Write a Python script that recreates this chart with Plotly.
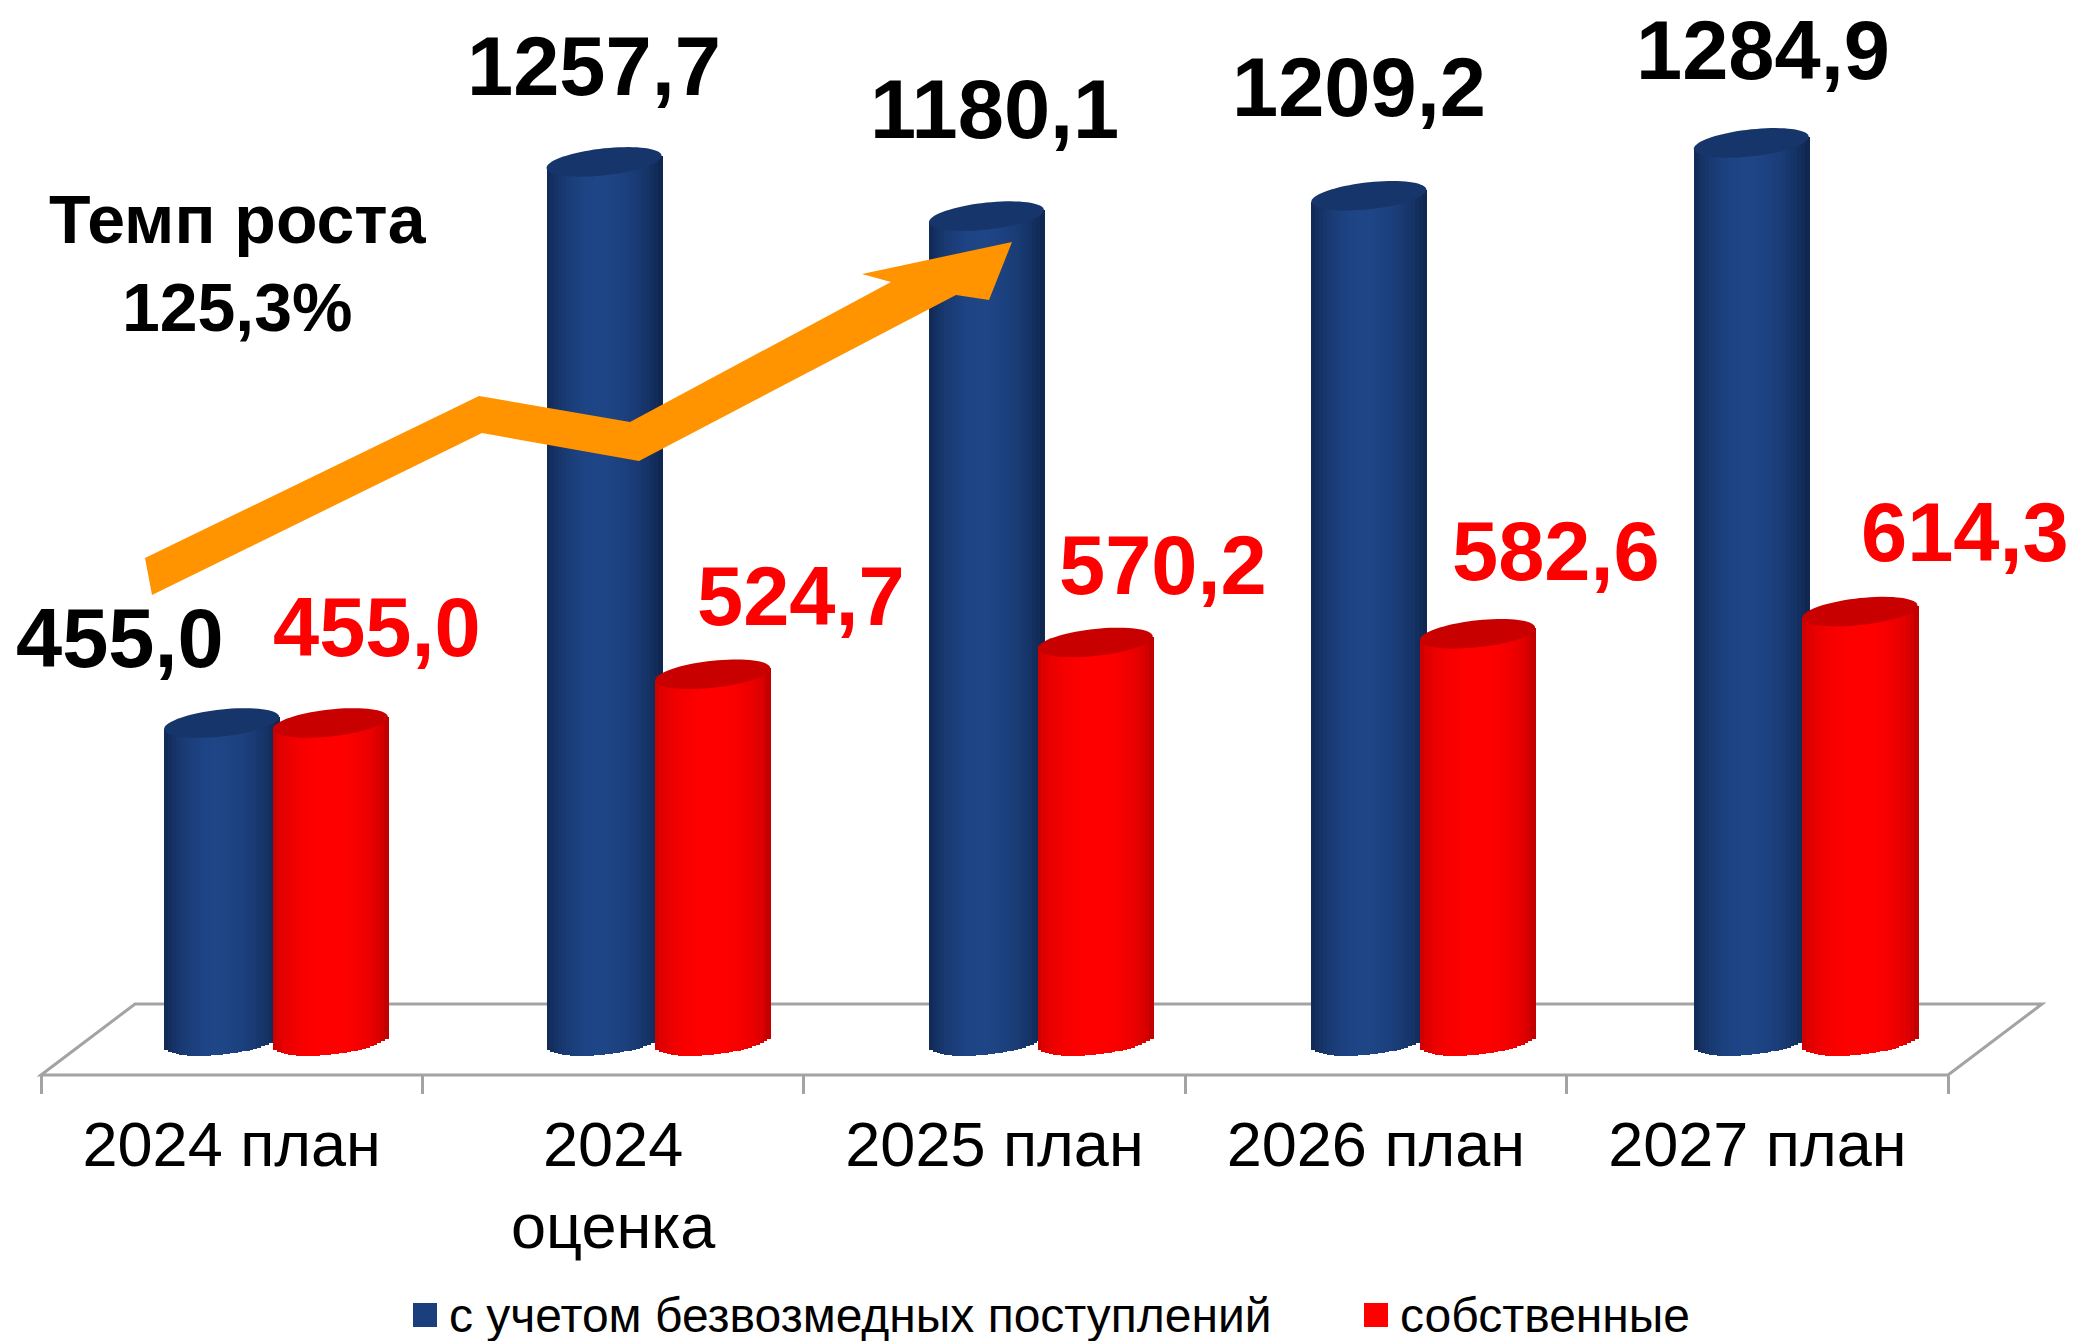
import numpy as np
import plotly.graph_objects as go

# ---------------- data ----------------
categories = ["2024 план", "2024<br>оценка", "2025 план", "2026 план", "2027 план"]
total_values = [455.0, 1257.7, 1180.1, 1209.2, 1284.9]
own_values = [455.0, 524.7, 570.2, 582.6, 614.3]
total_labels = ["455,0", "1257,7", "1180,1", "1209,2", "1284,9"]
own_labels = ["455,0", "524,7", "570,2", "582,6", "614,3"]
series_names = ["с учетом безвозмедных поступлений", "собственные"]
growth_text = "Темп роста<br>125,3%"

# ---------------- geometry / style ----------------
W, H = 2094, 1341
BASE_PX = 1041.0          # pixel row of value 0
PXU_Y = 0.699             # px per value unit
PX_CAT = 382.4            # px per category
PAIR0_PX = 276.0          # px of first pair centre
FRONT_L, FRONT_R = 41.0, 1948.0
FRONT_Y, BACK_Y = 1075.0, 1004.0
BACK_SHIFT = 94.0
FONT = "Liberation Sans, Arial, sans-serif"

x_lo = (FRONT_L - PAIR0_PX) / PX_CAT
x_hi = (FRONT_R - PAIR0_PX) / PX_CAT
y_lo = -(H - BASE_PX) / PXU_Y
y_hi = BASE_PX / PXU_Y

bar_w = 115.0 / PX_CAT
rx = bar_w / 2
ry = 13.5 / PXU_Y
shear = 6.0 / PXU_Y
centre_off = [-108.7 / 2 / PX_CAT, 108.7 / 2 / PX_CAT]

N = 30
xs = list(range(len(categories)))


def hex2rgb(h):
    h = h.lstrip('#')
    return np.array([int(h[i:i + 2], 16) for i in (0, 2, 4)], float)


def lerp(c1, c2, f):
    c = hex2rgb(c1) * (1 - f) + hex2rgb(c2) * f
    return "rgb(%d,%d,%d)" % tuple(np.round(c))


shade = [
    dict(dark_l="#0f2650", dark_r="#0d234a", light="#1e4586", u0=-0.1, p=0.7, top="#16356a"),
    dict(dark_l="#b80000", dark_r="#a00000", light="#ff0000", u0=0.05, p=0.35, top="#c80000"),
]

fig = go.Figure()

for s_idx, vals in enumerate([total_values, own_values]):
    sh = shade[s_idx]
    for j in range(N):
        uc = -1 + (2 * j + 1) / N
        if uc < sh["u0"]:
            d = (uc - sh["u0"]) / (1 + sh["u0"])
            dark = sh["dark_l"]
        else:
            d = (uc - sh["u0"]) / (1 - sh["u0"])
            dark = sh["dark_r"]
        f = max(0.0, np.cos(d * np.pi / 2)) ** sh["p"]
        col = lerp(dark, sh["light"], f)
        base = -ry * np.sqrt(max(0.0, 1 - uc ** 2)) + shear * uc
        heights = [v + shear * uc - base for v in vals]
        fig.add_trace(go.Bar(
            x=xs, y=heights, base=base,
            width=2 * rx / N + 0.0028,
            offset=centre_off[s_idx] - rx + j * 2 * rx / N,
            marker=dict(color=col, line=dict(width=0)),
            showlegend=False, hoverinfo="skip",
        ))

# top ellipses
shapes = []
t = np.linspace(0, 2 * np.pi, 73)
for i in xs:
    for s_idx, vals in enumerate([total_values, own_values]):
        cx = i + centre_off[s_idx]
        px = cx + rx * np.cos(t)
        py = vals[i] + ry * np.sin(t) + shear * np.cos(t)
        path = "M " + " L ".join("%.5f,%.4f" % (a, b) for a, b in zip(px, py)) + " Z"
        shapes.append(dict(type="path", path=path, xref="x", yref="y",
                           fillcolor=shade[s_idx]["top"], line=dict(width=0), layer="above"))


def P(xp, yp):
    return xp / W, 1 - yp / H


# floor
fl = [(FRONT_L, FRONT_Y), (FRONT_L + BACK_SHIFT, BACK_Y), (FRONT_R + BACK_SHIFT, BACK_Y), (FRONT_R, FRONT_Y)]
fpath = "M " + " L ".join("%.5f,%.5f" % P(a, b) for a, b in fl) + " Z"
shapes.insert(0, dict(type="path", path=fpath, xref="paper", yref="paper",
                      line=dict(color="#a3a3a3", width=3), fillcolor="rgba(0,0,0,0)", layer="below"))

# orange growth arrow
arrow_px = [(145, 558), (479, 396), (630, 422), (891, 282), (862, 274), (1012, 242),
            (989, 300), (956, 295), (639, 461), (482, 433), (152, 595)]
apath = "M " + " L ".join("%.5f,%.5f" % P(a, b) for a, b in arrow_px) + " Z"
shapes.append(dict(type="path", path=apath, xref="paper", yref="paper",
                   fillcolor="#ff9300", line=dict(width=0), layer="above"))

# legend squares
leg_sq = [(413, 1303, 437, 1327), (1364, 1303, 1388, 1327)]
leg_col = ["#1b3f7c", "#ff0000"]
for (a, b, c, d), col in zip(leg_sq, leg_col):
    xa, ya = P(a, d)
    xb, yb = P(c, b)
    shapes.append(dict(type="rect", xref="paper", yref="paper", x0=xa, x1=xb, y0=ya, y1=yb,
                       fillcolor=col, line=dict(width=0)))

annotations = []
# value labels
blue_dx = [-102, -10, 8, -10, 12]
blue_dy = [84, 95, 107, 108, 92]
red_dx = [47, 88, 68, 78, 105]
red_dy = [95, 78, 77, 82, 79]
for i in xs:
    annotations.append(dict(x=i + centre_off[0], y=total_values[i], xref="x", yref="y",
                            text="<b>%s</b>" % total_labels[i], showarrow=False,
                            xshift=blue_dx[i], yshift=blue_dy[i], yanchor="middle",
                            font=dict(family=FONT, size=83, color="#000000")))
    annotations.append(dict(x=i + centre_off[1], y=own_values[i], xref="x", yref="y",
                            text="<b>%s</b>" % own_labels[i], showarrow=False,
                            xshift=red_dx[i], yshift=red_dy[i], yanchor="middle",
                            font=dict(family=FONT, size=83, color="#ff0000")))

gx, gy = P(238, 263)
annotations.append(dict(x=gx, y=gy, xref="paper", yref="paper", text="<b>%s</b>" % growth_text,
                        showarrow=False, align="center", xanchor="center", yanchor="middle",
                        font=dict(family=FONT, size=68, color="#000000")))

for (xp, name) in zip([447, 1398], series_names):
    ax, ay = P(xp, 1315)
    annotations.append(dict(x=ax, y=ay, xref="paper", yref="paper", text=name, showarrow=False,
                            xanchor="left", yanchor="middle",
                            font=dict(family=FONT, size=48, color="#000000")))

bounds = list(np.linspace(x_lo, x_hi, len(categories) + 1))
mids = [(bounds[k] + bounds[k + 1]) / 2 for k in range(len(categories))]

fig.update_layout(
    width=W, height=H,
    margin=dict(l=0, r=0, t=0, b=0),
    paper_bgcolor="white", plot_bgcolor="white",
    barmode="overlay", bargap=0,
    showlegend=False,
    shapes=shapes, annotations=annotations,
    xaxis=dict(domain=[FRONT_L / W, FRONT_R / W], range=[x_lo, x_hi],
               anchor="free", position=1 - FRONT_Y / H,
               tickmode="array", tickvals=mids, ticktext=categories,
               ticks="outside", ticklen=14, tickcolor="rgba(0,0,0,0)",
               tickfont=dict(family=FONT, size=63, color="#000000"),
               minor=dict(tickmode="array", tickvals=bounds, ticks="outside", ticklen=18,
                          tickwidth=3, tickcolor="#a3a3a3", showgrid=False),
               showline=False, showgrid=False, zeroline=False, fixedrange=True),
    yaxis=dict(domain=[0, 1], range=[y_lo, y_hi], visible=False, showgrid=False,
               zeroline=False, fixedrange=True),
)

fig.write_html(
    "out.html",
    config={"displayModeBar": False},
    post_script="document.body.style.margin='0';document.body.style.overflow='hidden';",
)
